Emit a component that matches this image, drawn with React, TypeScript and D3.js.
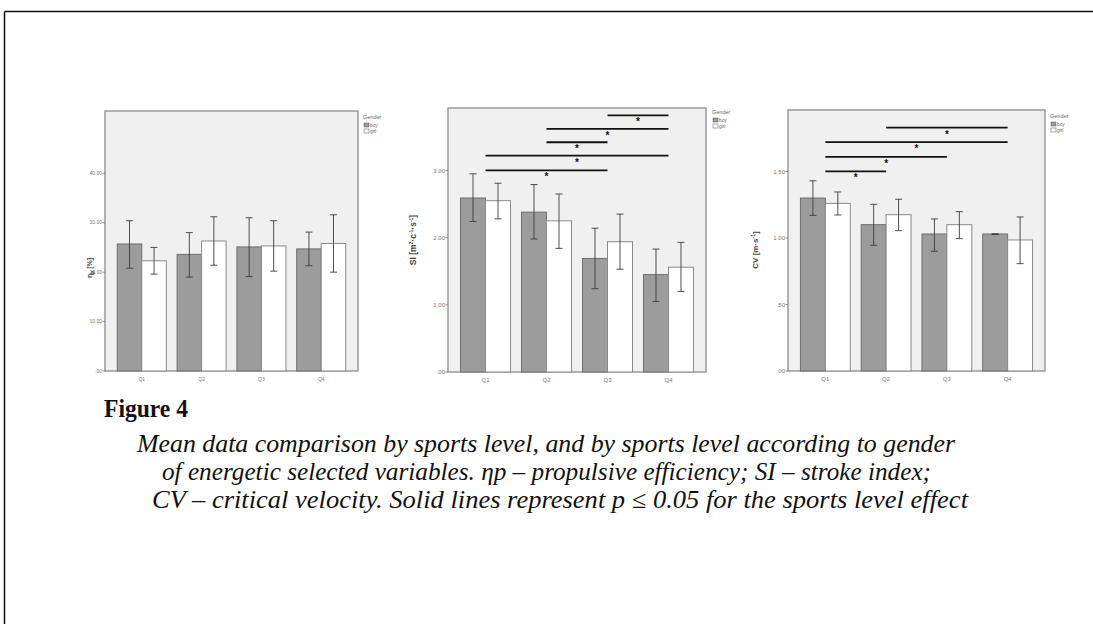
import React from "react";
import * as d3 from "d3";

const categories = ["Q1", "Q2", "Q3", "Q4"];
const genders = ["boy", "girl"];

// Panel 1: propulsive efficiency ηp [%]
const etaBoyMean = [25.7, 23.6, 25.1, 24.7];
const etaBoyLow = [20.8, 19.0, 19.1, 21.3];
const etaBoyHigh = [30.4, 28.0, 31.0, 28.1];
const etaGirlMean = [22.3, 26.3, 25.3, 25.8];
const etaGirlLow = [19.6, 21.4, 20.2, 20.0];
const etaGirlHigh = [25.0, 31.2, 30.4, 31.6];
const etaTicks = [0, 10, 20, 30, 40];
const etaSigFrom: number[] = [];
const etaSigTo: number[] = [];
const etaSigLevel: number[] = [];

// Panel 2: stroke index SI
const siBoyMean = [2.59, 2.38, 1.69, 1.45];
const siBoyLow = [2.24, 1.98, 1.24, 1.05];
const siBoyHigh = [2.95, 2.79, 2.14, 1.83];
const siGirlMean = [2.55, 2.25, 1.94, 1.56];
const siGirlLow = [2.28, 1.84, 1.53, 1.2];
const siGirlHigh = [2.81, 2.65, 2.35, 1.93];
const siTicks = [0, 1, 2, 3];
const siSigFrom = [2, 1, 1, 0, 0];
const siSigTo = [3, 3, 2, 3, 2];
const siSigLevel = [3.82, 3.62, 3.42, 3.22, 3.0];

// Panel 3: critical velocity CV
const cvBoyMean = [1.3, 1.1, 1.03, 1.03];
const cvBoyLow = [1.17, 0.945, 0.9, 1.026];
const cvBoyHigh = [1.43, 1.253, 1.143, 1.032];
const cvGirlMean = [1.26, 1.175, 1.1, 0.985];
const cvGirlLow = [1.173, 1.055, 0.995, 0.807];
const cvGirlHigh = [1.346, 1.291, 1.198, 1.158];
const cvTicks = [0, 0.5, 1, 1.5];
const cvSigFrom = [1, 0, 0, 0];
const cvSigTo = [3, 3, 2, 1];
const cvSigLevel = [1.83, 1.72, 1.61, 1.5];

const captionTitle = "Figure 4";
const captionLines = [
  "Mean data comparison by sports level, and by sports level according to gender",
  "of energetic selected variables. ηp – propulsive efficiency; SI – stroke index;",
  "CV – critical velocity. Solid lines represent p ≤ 0.05 for the sports level effect",
];

const fmtTick = (v: number) => d3.format(".2f")(v).replace(/^0/, "");
const SANS = "'Liberation Sans', Arial, sans-serif";
const SERIF = "'Liberation Serif', 'Times New Roman', serif";

type PanelProps = {
  x0: number;
  x1: number;
  y0: number;
  y1: number;
  yMax: number;
  boyMean: number[];
  boyLow: number[];
  boyHigh: number[];
  girlMean: number[];
  girlLow: number[];
  girlHigh: number[];
  ticks: number[];
  sigFrom: number[];
  sigTo: number[];
  sigLevel: number[];
  label: React.ReactNode;
  labelX: number;
  labelY: number;
  labelSize: number;
  legendX: number;
  legendY: number;
  tickFont: number;
};

function Panel(p: PanelProps) {
  const x = d3
    .scaleBand<string>()
    .domain(categories)
    .range([p.x0, p.x1])
    .paddingInner(0.18)
    .paddingOuter(0.205);
  const sub = d3.scaleBand<string>().domain(genders).range([0, x.bandwidth()]);
  const y = d3.scaleLinear().domain([0, p.yMax]).range([p.y1, p.y0]);
  const series = [
    { g: "boy", mean: p.boyMean, low: p.boyLow, high: p.boyHigh, fill: "#9c9c9c", stroke: "#6f6f6f" },
    { g: "girl", mean: p.girlMean, low: p.girlLow, high: p.girlHigh, fill: "#ffffff", stroke: "#8a8a8a" },
  ];
  const center = (i: number) => (x(categories[i]) as number) + x.bandwidth() / 2;
  const cap = 3.5;
  return (
    <g>
      <rect x={p.x0} y={p.y0} width={p.x1 - p.x0} height={p.y1 - p.y0} fill="#f0f0f0" stroke="#8c8c8c" strokeWidth={1.3} />
      {series.map((s) =>
        categories.map((c, i) => {
          const bx = (x(c) as number) + (sub(s.g) as number);
          const bw = sub.bandwidth();
          return (
            <rect key={s.g + c} x={bx} y={y(s.mean[i])} width={bw} height={y(0) - y(s.mean[i])} fill={s.fill} stroke={s.stroke} strokeWidth={1} />
          );
        })
      )}
      {series.map((s) =>
        categories.map((c, i) => {
          const cx = (x(c) as number) + (sub(s.g) as number) + sub.bandwidth() / 2;
          return (
            <g key={"e" + s.g + c} stroke="#3c3c3c" strokeWidth={0.9}>
              <line x1={cx} x2={cx} y1={y(s.low[i])} y2={y(s.high[i])} />
              <line x1={cx - cap} x2={cx + cap} y1={y(s.low[i])} y2={y(s.low[i])} />
              <line x1={cx - cap} x2={cx + cap} y1={y(s.high[i])} y2={y(s.high[i])} />
            </g>
          );
        })
      )}
      {p.sigLevel.map((lv, k) => {
        const xa = center(p.sigFrom[k]);
        const xb = center(p.sigTo[k]);
        return (
          <g key={"s" + k}>
            <line x1={xa} x2={xb} y1={y(lv)} y2={y(lv)} stroke="#111" strokeWidth={1.8} />
            <text x={(xa + xb) / 2} y={y(lv) + 10} fontSize={10} textAnchor="middle" fill="#111" fontFamily={SANS} fontWeight="bold">
              *
            </text>
          </g>
        );
      })}
      {p.ticks.map((t) => (
        <g key={"t" + t}>
          <line x1={p.x0 - 2.5} x2={p.x0} y1={y(t)} y2={y(t)} stroke="#777" strokeWidth={0.8} />
          <text x={p.x0 - 3} y={y(t) + p.tickFont * 0.35} fontSize={p.tickFont} textAnchor="end" fill="#777" fontFamily={SANS}>
            {fmtTick(t)}
          </text>
        </g>
      ))}
      {categories.map((c, i) => (
        <text key={"x" + c} x={center(i)} y={p.y1 + 10} fontSize={p.tickFont} textAnchor="middle" fill="#777" fontFamily={SANS}>
          {c}
        </text>
      ))}
      <text
        transform={`translate(${p.labelX},${p.labelY}) rotate(-90)`}
        fontSize={p.labelSize}
        fontWeight="bold"
        textAnchor="middle"
        fill="#444"
        fontFamily={SANS}
      >
        {p.label}
      </text>
      <g fontFamily={SANS} fill="#666">
        <text x={p.legendX} y={p.legendY} fontSize={5.5}>
          Gender
        </text>
        <rect x={p.legendX + 1} y={p.legendY + 4} width={5} height={4} fill="#9c9c9c" stroke="#555" strokeWidth={0.5} />
        <text x={p.legendX + 7} y={p.legendY + 8} fontSize={4.8}>
          boy
        </text>
        <rect x={p.legendX + 1} y={p.legendY + 10} width={5} height={4} fill="#fff" stroke="#555" strokeWidth={0.5} />
        <text x={p.legendX + 7} y={p.legendY + 14} fontSize={4.8}>
          girl
        </text>
      </g>
    </g>
  );
}

export default function App() {
  return (
    <svg width={1093} height={624} style={{ position: "absolute", left: 0, top: 0, background: "#fff", overflow: "hidden" }}>
      <line x1={4.5} x2={1093} y1={11.5} y2={11.5} stroke="#111" strokeWidth={1.5} />
      <line x1={4.5} x2={4.5} y1={11.5} y2={624} stroke="#111" strokeWidth={1.5} />
      <Panel
        x0={105} x1={358} y0={111} y1={371} yMax={52.6}
        boyMean={etaBoyMean} boyLow={etaBoyLow} boyHigh={etaBoyHigh}
        girlMean={etaGirlMean} girlLow={etaGirlLow} girlHigh={etaGirlHigh}
        ticks={etaTicks} sigFrom={etaSigFrom} sigTo={etaSigTo} sigLevel={etaSigLevel}
        label={<><tspan>η</tspan><tspan fontSize={5} dy={1.5}>p</tspan><tspan dy={-1.5}> [%]</tspan></>}
        labelX={92} labelY={268} labelSize={7} legendX={363} legendY={119} tickFont={5}
      />
      <Panel
        x0={448} x1={706} y0={108} y1={372} yMax={3.93}
        boyMean={siBoyMean} boyLow={siBoyLow} boyHigh={siBoyHigh}
        girlMean={siGirlMean} girlLow={siGirlLow} girlHigh={siGirlHigh}
        ticks={siTicks} sigFrom={siSigFrom} sigTo={siSigTo} sigLevel={siSigLevel}
        label={<><tspan>SI [m</tspan><tspan fontSize={5} dy={-3}>2</tspan><tspan dy={3}>·c</tspan><tspan fontSize={5} dy={-3}>-1</tspan><tspan dy={3}>·s</tspan><tspan fontSize={5} dy={-3}>-1</tspan><tspan dy={3}>]</tspan></>}
        labelX={416} labelY={240} labelSize={8.5} legendX={712} legendY={114} tickFont={6}
      />
      <Panel
        x0={788} x1={1045} y0={110} y1={371} yMax={1.962}
        boyMean={cvBoyMean} boyLow={cvBoyLow} boyHigh={cvBoyHigh}
        girlMean={cvGirlMean} girlLow={cvGirlLow} girlHigh={cvGirlHigh}
        ticks={cvTicks} sigFrom={cvSigFrom} sigTo={cvSigTo} sigLevel={cvSigLevel}
        label={<><tspan>CV [m·s</tspan><tspan fontSize={5} dy={-3}>-1</tspan><tspan dy={3}>]</tspan></>}
        labelX={758} labelY={250} labelSize={8} legendX={1050} legendY={118} tickFont={6}
      />
      <text x={104} y={417} fontSize={26} fontWeight="bold" fill="#111" fontFamily={SERIF} textLength={84} lengthAdjust="spacingAndGlyphs">
        {captionTitle}
      </text>
      {captionLines.map((line, i) => {
        const spans = [[137, 955], [162, 931], [152, 968]][i];
        return (
          <text key={i} x={spans[0]} y={452 + i * 28} fontSize={25} fontStyle="italic" fill="#111" fontFamily={SERIF} textLength={spans[1] - spans[0]} lengthAdjust="spacingAndGlyphs">
            {line}
          </text>
        );
      })}
    </svg>
  );
}
